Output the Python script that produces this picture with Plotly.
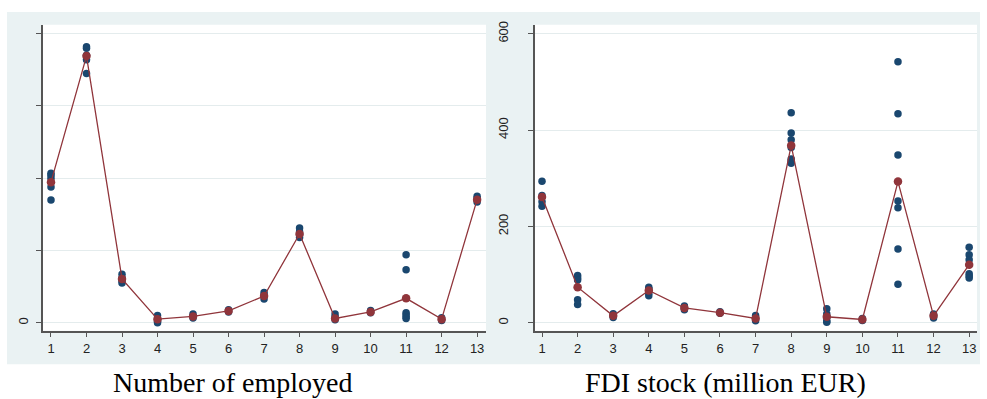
import plotly.graph_objects as go

categories = list(range(1, 14))

# Left panel: Number of employed (individual observations and mean)
emp_points = [
    [2.07, 2.04, 2.00, 1.88, 1.70],
    [3.82, 3.80, 3.70, 3.64, 3.45],
    [0.67, 0.62, 0.58, 0.55],
    [0.10, 0.06, 0.02, 0.00],
    [0.12, 0.09, 0.065],
    [0.18, 0.15],
    [0.42, 0.38, 0.33],
    [1.31, 1.26, 1.22, 1.18],
    [0.12, 0.08, 0.04],
    [0.17, 0.14],
    [0.94, 0.735, 0.14, 0.11, 0.08, 0.06],
    [0.07, 0.03],
    [1.75, 1.72, 1.67],
]
emp_mean = [1.945, 3.69, 0.607, 0.05, 0.087, 0.164, 0.37, 1.228, 0.06, 0.15, 0.338, 0.05, 1.703]
emp_ticks = [0, 1, 2, 3, 4]
emp_ticktext = ["0", "", "", "", ""]

# Right panel: FDI stock (million EUR)
fdi_points = [
    [294, 264, 251, 242],
    [98, 93, 89, 48, 38],
    [19, 15, 11],
    [74, 70, 62, 56],
    [35, 31, 27],
    [23, 20],
    [15, 10, 4],
    [436, 394, 380, 364, 340, 336, 331],
    [29, 18, 12, 4, 1],
    [9, 5],
    [542, 434, 348, 253, 239, 153, 80],
    [18, 14, 10],
    [157, 141, 131, 102, 97, 93],
]
fdi_mean = [261, 74, 14.4, 67, 30.8, 21, 8.9, 368, 12.5, 6.8, 293, 14.4, 120.6]
fdi_ticks = [0, 200, 400, 600]

xtick_labels = [str(c) for c in categories]

titles = ["Number of employed", "FDI stock (million EUR)"]

BLUE = "#1a476f"
RED = "#90353b"
BG = "#eaf2f3"
GRID = "#e4eced"
AXIS = "#555555"

W, H = 987, 399

def fx(px):
    return px / W

def fy(py):
    return 1 - py / H

fig = go.Figure()

def flatten(points):
    xs, ys = [], []
    for c, vals in zip(categories, points):
        for v in vals:
            xs.append(c)
            ys.append(v)
    return xs, ys

ex, ey = flatten(emp_points)
fx_, fy_ = flatten(fdi_points)

fig.add_trace(go.Scatter(x=ex, y=ey, mode="markers", marker=dict(color=BLUE, size=7.5, line=dict(width=0)),
                         xaxis="x", yaxis="y", showlegend=False))
fig.add_trace(go.Scatter(x=categories, y=emp_mean, mode="lines+markers",
                         marker=dict(color=RED, size=8.5, line=dict(width=0)),
                         line=dict(color=RED, width=1.3), xaxis="x", yaxis="y", showlegend=False))
fig.add_trace(go.Scatter(x=fx_, y=fy_, mode="markers", marker=dict(color=BLUE, size=7.5, line=dict(width=0)),
                         xaxis="x2", yaxis="y2", showlegend=False))
fig.add_trace(go.Scatter(x=categories, y=fdi_mean, mode="lines+markers",
                         marker=dict(color=RED, size=8.5, line=dict(width=0)),
                         line=dict(color=RED, width=1.3), xaxis="x2", yaxis="y2", showlegend=False))

tickfont = dict(family="Liberation Sans, Arial", size=13, color="#222222")

common_x = dict(tickmode="array", tickvals=categories, ticktext=xtick_labels, showgrid=False,
                showline=True, linecolor=AXIS, linewidth=1.5, ticks="outside", ticklen=5,
                tickwidth=1.2, tickcolor=AXIS, tickfont=tickfont, zeroline=False, fixedrange=True)
common_y = dict(showgrid=True, gridcolor=GRID, gridwidth=1.2, showline=True, linecolor=AXIS,
                linewidth=1.5, ticks="outside", ticklen=5, tickwidth=1.2, tickcolor=AXIS,
                tickfont=tickfont, tickangle=-90, zeroline=False, fixedrange=True)

y_dom = [fy(330), fy(21)]

fig.update_layout(
    width=W, height=H,
    margin=dict(l=0, r=0, t=0, b=0),
    paper_bgcolor="white",
    plot_bgcolor="rgba(0,0,0,0)",
    xaxis=dict(domain=[fx(43), fx(486)], range=[0.775, 13.25], anchor="y", **common_x),
    yaxis=dict(domain=y_dom, range=[-0.11, 4.123], anchor="x", tickmode="array",
               tickvals=emp_ticks, ticktext=emp_ticktext, ticklabelstandoff=3, **common_y),
    xaxis2=dict(domain=[fx(535), fx(977)], range=[0.803, 13.22], anchor="y2", **common_x),
    yaxis2=dict(domain=y_dom, range=[-16.4, 618.5], anchor="x2", tickmode="array",
                tickvals=fdi_ticks, ticktext=[str(t) for t in fdi_ticks], ticklabelstandoff=15, **common_y),
    shapes=[
        dict(type="rect", xref="paper", yref="paper", x0=fx(7), x1=fx(980), y0=fy(364), y1=fy(8),
             fillcolor=BG, line=dict(width=0), layer="below"),
        dict(type="rect", xref="paper", yref="paper", x0=fx(43), x1=fx(486), y0=fy(330), y1=fy(21),
             fillcolor="white", line=dict(width=0), layer="below"),
        dict(type="rect", xref="paper", yref="paper", x0=fx(535), x1=fx(977), y0=fy(330), y1=fy(21),
             fillcolor="white", line=dict(width=0), layer="below"),
    ],
    annotations=[
        dict(text=titles[0], xref="paper", yref="paper", x=fx(233), y=fy(382), xanchor="center",
             yanchor="middle", showarrow=False,
             font=dict(family="Liberation Serif, Times New Roman", size=28, color="black")),
        dict(text=titles[1], xref="paper", yref="paper", x=fx(725.5), y=fy(382), xanchor="center",
             yanchor="middle", showarrow=False,
             font=dict(family="Liberation Serif, Times New Roman", size=28, color="black")),
    ],
)

fig.write_html("out.html", config={"displayModeBar": False},
               post_script="document.body.style.margin='0';document.body.style.overflow='hidden';")
